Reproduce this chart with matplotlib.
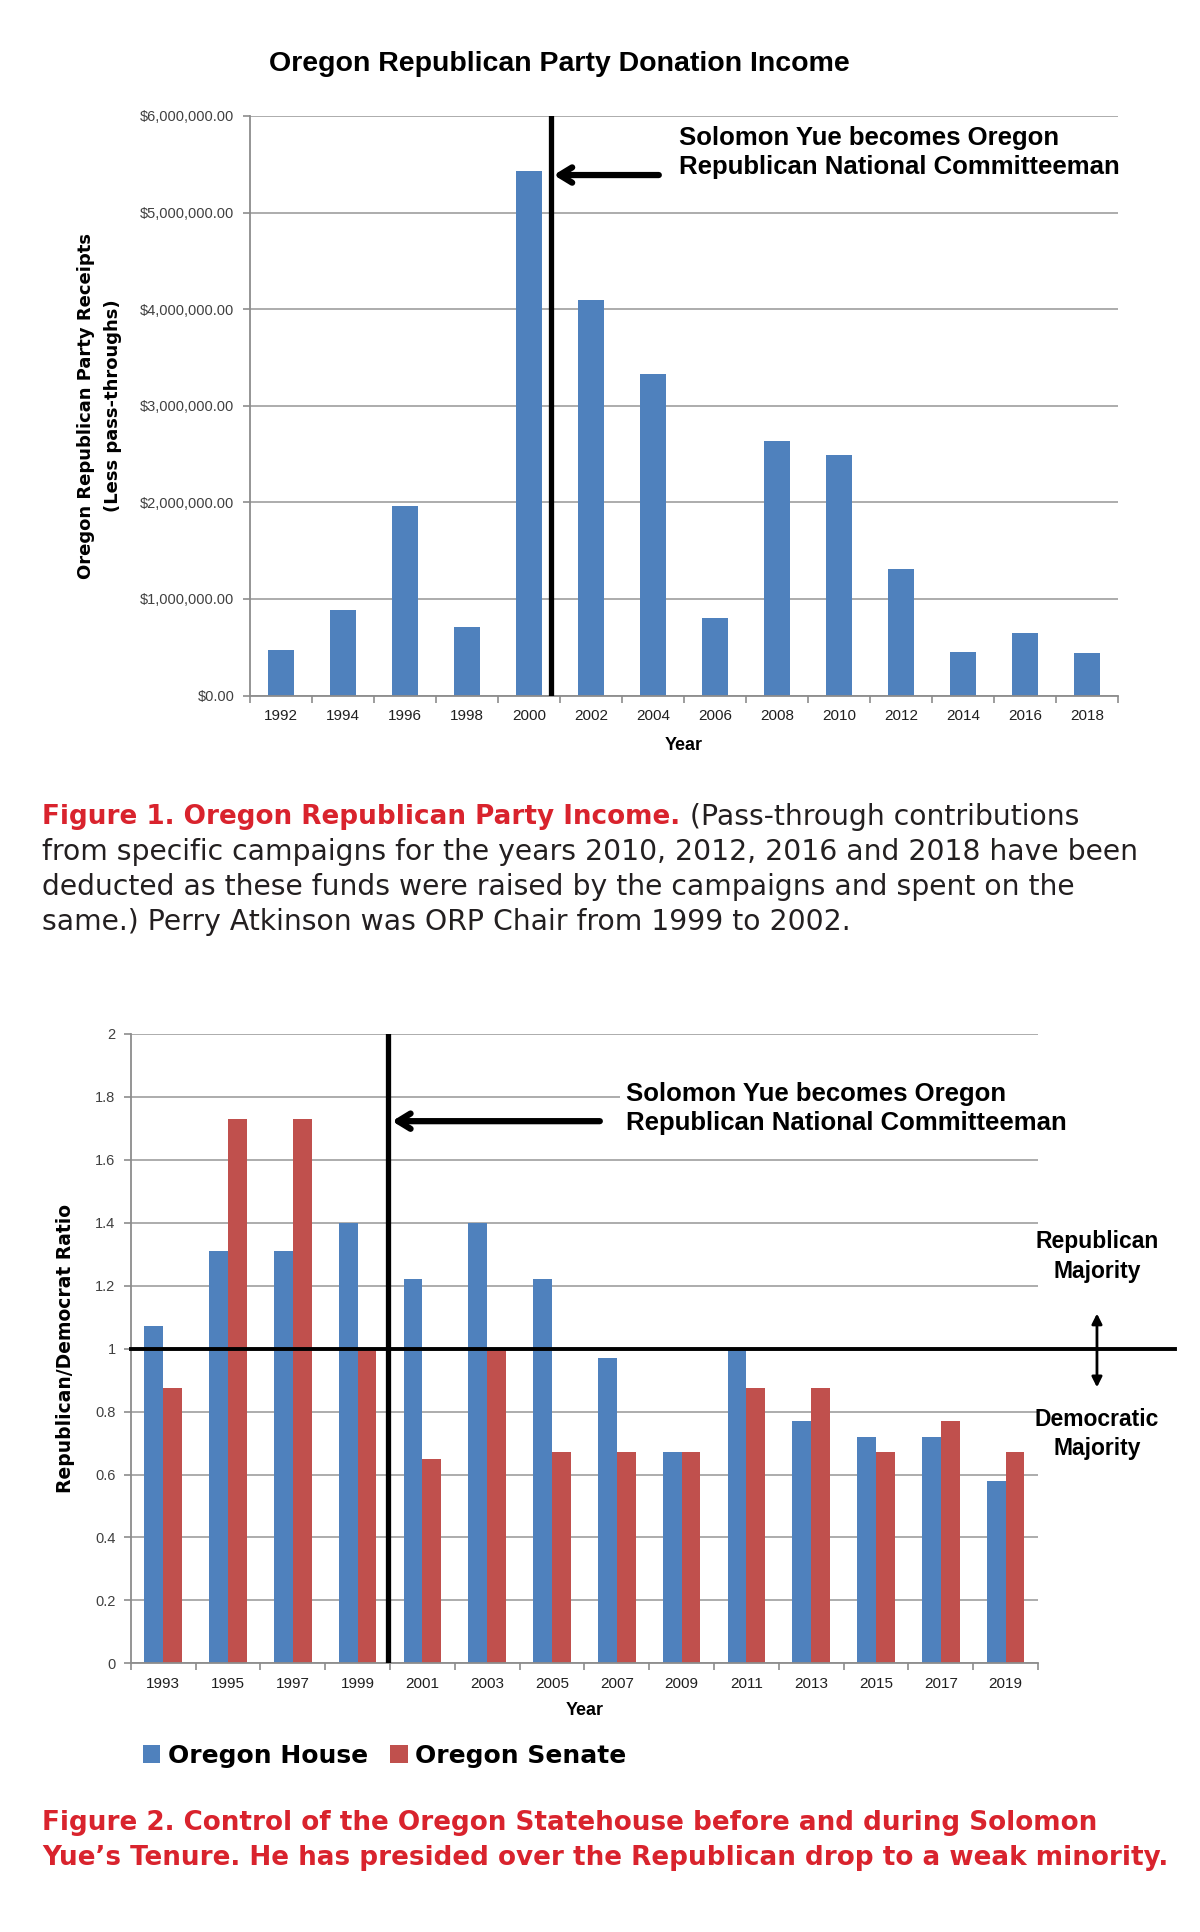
import matplotlib
matplotlib.use("Agg")
import matplotlib.pyplot as plt
import numpy as np

# --- data ---
income_years = ["1992", "1994", "1996", "1998", "2000", "2002", "2004",
                "2006", "2008", "2010", "2012", "2014", "2016", "2018"]
income = [470000, 890000, 1960000, 710000, 5430000, 4090000, 3330000,
          800000, 2630000, 2490000, 1310000, 450000, 650000, 440000]
income_ticks = [0, 1e6, 2e6, 3e6, 4e6, 5e6, 6e6]

ratio_years = ["1993", "1995", "1997", "1999", "2001", "2003", "2005",
               "2007", "2009", "2011", "2013", "2015", "2017", "2019"]
house = [1.07, 1.31, 1.31, 1.40, 1.22, 1.40, 1.22,
         0.97, 0.67, 1.00, 0.77, 0.72, 0.72, 0.58]
senate = [0.875, 1.73, 1.73, 1.00, 0.65, 1.00, 0.67,
          0.67, 0.67, 0.875, 0.875, 0.67, 0.77, 0.67]
ratio_ticks = [0, 0.2, 0.4, 0.6, 0.8, 1, 1.2, 1.4, 1.6, 1.8, 2]

yue_income_pos = 4.35
yue_ratio_pos = 3.47

BLUE = "#4F81BD"
RED = "#C0504D"
GRID = "#A6A6A6"
CAP_RED = "#D9232D"
CAP_TXT = "#231F20"
CHART_FONT = "Liberation Sans"
CAP_FONT = "DejaVu Sans"

fig = plt.figure(figsize=(12, 19.32), dpi=100)
fig.canvas.draw()
renderer = fig.canvas.get_renderer()


def excel_axes(ax, n):
    for s in ["top", "right"]:
        ax.spines[s].set_visible(False)
    for s in ["left", "bottom"]:
        ax.spines[s].set_color("#8C8C8C")
        ax.spines[s].set_linewidth(1.3)
    ax.set_xlim(-0.5, n - 0.5)
    ax.set_xticks(np.arange(n))
    ax.set_xticks(np.arange(-0.5, n, 1), minor=True)
    ax.tick_params(axis="x", which="major", length=0, pad=10)
    ax.tick_params(axis="x", which="minor", length=5, color="#8C8C8C", width=1.2)
    ax.tick_params(axis="y", length=5, color="#8C8C8C", width=1.2, pad=6)
    ax.yaxis.grid(True, color=GRID, linewidth=1.3)
    ax.set_axisbelow(True)


def fit_size(s, width_px, weight="normal"):
    # font size so that string s is width_px wide
    t = fig.text(0, 0, s, fontsize=20, family=CAP_FONT, fontweight=weight)
    w = t.get_window_extent(renderer).width
    t.remove()
    return 20 * width_px / w


arrow_left = dict(arrowstyle="->,head_length=0.9,head_width=0.55", color="black",
                  linewidth=4.5, shrinkA=0, shrinkB=0)

# ---------------- chart 1 ----------------
ax1 = fig.add_axes([0.208, 0.640, 0.724, 0.300])
x1 = np.arange(len(income_years))
ax1.bar(x1, income, width=0.42, color=BLUE)
excel_axes(ax1, len(income_years))
ax1.set_ylim(0, 6e6)
ax1.set_yticks(income_ticks)
ax1.set_yticklabels(["$" + format(v, ",.2f") for v in income_ticks],
                    fontsize=10.5, family=CHART_FONT, color="#404040")
ax1.set_xticklabels(income_years, fontsize=11, family=CHART_FONT, color="#202020")
ax1.axvline(yue_income_pos, color="black", linewidth=3.8, zorder=5)
ax1.annotate("", xy=(0.350, 0.898), xytext=(0.471, 0.898), xycoords="axes fraction",
             arrowprops=arrow_left, zorder=6)
ax1.text(0.494, 0.937, "Solomon Yue becomes Oregon\nRepublican National Committeeman",
         transform=ax1.transAxes, ha="left", va="center", fontsize=18.5,
         fontweight="bold", family=CHART_FONT, linespacing=1.3, zorder=6,
         bbox=dict(facecolor="white", edgecolor="none", pad=4))
ax1.set_xlabel("Year", fontsize=13, fontweight="bold", family=CHART_FONT, labelpad=10)
fig.text(0.466, 0.967, "Oregon Republican Party Donation Income", ha="center",
         va="center", fontsize=20.5, fontweight="bold", family=CHART_FONT)
fig.text(0.083, 0.790, "Oregon Republican Party Receipts\n(Less pass-throughs)",
         rotation=90, ha="center", va="center", fontsize=13, fontweight="bold",
         family="DejaVu Sans", linespacing=1.65)

# ---------------- caption 1 ----------------
cx = 34 / 960
cap1_lines = ["from specific campaigns for the years 2010, 2012, 2016 and 2018 have been",
              "deducted as these funds were raised by the campaigns and spent on the",
              "same.) Perry Atkinson was ORP Chair from 1999 to 2002."]
cap2_lines = ["Figure 2. Control of the Oregon Statehouse before and during Solomon",
              "Yue\u2019s Tenure. He has presided over the Republican drop to a weak minority."]
fs_norm = fit_size(cap1_lines[0], 1096)
fs_bold = fit_size(cap2_lines[1], 1127, "bold")

t_red = fig.text(cx, 0.5773, "Figure 1. Oregon Republican Party Income.", color=CAP_RED,
                 fontsize=fs_bold, fontweight="bold", family=CAP_FONT, va="center")
bb = t_red.get_window_extent(renderer)
fig.text(bb.x1 / fig.bbox.width, 0.5773, " (Pass-through contributions", color=CAP_TXT,
         fontsize=fs_norm, family=CAP_FONT, va="center")
for i, line in enumerate(cap1_lines):
    fig.text(cx, 0.5592 - i * 0.0181, line, color=CAP_TXT, fontsize=fs_norm,
             family=CAP_FONT, va="center")

# ---------------- chart 2 ----------------
ax2 = fig.add_axes([0.109, 0.139, 0.756, 0.326])
x2 = np.arange(len(ratio_years))
w = 0.29
ax2.bar(x2 - w / 2, house, width=w, color=BLUE, label="Oregon House")
ax2.bar(x2 + w / 2, senate, width=w, color=RED, label="Oregon Senate")
excel_axes(ax2, len(ratio_years))
ax2.set_ylim(0, 2)
ax2.set_yticks(ratio_ticks)
ax2.set_yticklabels([format(v, "g") for v in ratio_ticks], fontsize=10.5,
                    family=CHART_FONT, color="#404040")
ax2.set_xticklabels(ratio_years, fontsize=11, family=CHART_FONT, color="#202020")
ax2.axvline(yue_ratio_pos, color="black", linewidth=3.8, zorder=5)
ax2.plot([-0.5, 15.62], [1, 1], color="black", linewidth=2.8, clip_on=False, zorder=5)
ax2.annotate("", xy=(0.288, 0.861), xytext=(0.517, 0.861), xycoords="axes fraction",
             arrowprops=arrow_left, zorder=6)
ax2.text(0.546, 0.881, "Solomon Yue becomes Oregon\nRepublican National Committeeman",
         transform=ax2.transAxes, ha="left", va="center", fontsize=18.5,
         fontweight="bold", family=CHART_FONT, linespacing=1.3, zorder=6,
         bbox=dict(facecolor="white", edgecolor="none", pad=4))
ax2.annotate("", xy=(1.065, 0.560), xytext=(1.065, 0.434), xycoords="axes fraction",
             textcoords="axes fraction",
             arrowprops=dict(arrowstyle="<|-|>,head_length=0.6,head_width=0.3",
                             color="black", linewidth=2))
ax2.text(1.065, 0.646, "Republican\nMajority", transform=ax2.transAxes, ha="center",
         va="center", fontsize=16.5, fontweight="bold", family=CHART_FONT, linespacing=1.35)
ax2.text(1.065, 0.364, "Democratic\nMajority", transform=ax2.transAxes, ha="center",
         va="center", fontsize=16.5, fontweight="bold", family=CHART_FONT, linespacing=1.35)
ax2.set_xlabel("Year", fontsize=13, fontweight="bold", family=CHART_FONT, labelpad=8)
ax2.set_ylabel("Republican/Democrat Ratio", fontsize=13.5, fontweight="bold",
               family="DejaVu Sans")
ax2.yaxis.set_label_coords(-0.061, 0.5)
fig.legend(loc="center left", bbox_to_anchor=(0.100, 0.0913), ncol=2, frameon=False,
           prop=dict(family="DejaVu Sans", weight="bold", size=18),
           handlelength=0.7, handleheight=0.7, handletextpad=0.3, columnspacing=0.9)

# ---------------- caption 2 ----------------
for i, line in enumerate(cap2_lines):
    fig.text(cx, 0.0563 - i * 0.0181, line, color=CAP_RED, fontsize=fs_bold,
             fontweight="bold", family=CAP_FONT, va="center")

fig.savefig("out.png", dpi=100, facecolor="white")
